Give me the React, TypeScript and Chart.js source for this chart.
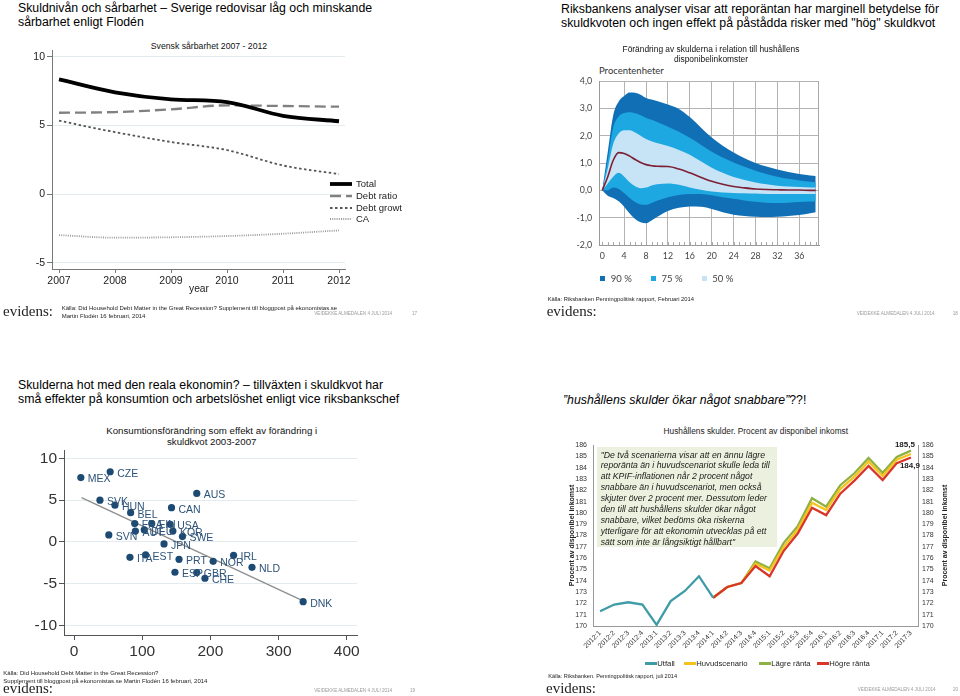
import React, { useEffect, useRef } from "react";
import { Chart, registerables } from "chart.js";

Chart.register(...registerables);

const SANS = '"Liberation Sans", Arial, Helvetica, sans-serif';
const LATO = 'Lato, "Open Sans", sans-serif';
const SERIF = '"Liberation Serif", "Times New Roman", serif';
Chart.defaults.font.family = SANS;

// ===== Top-left: Svensk sårbarhet 2007 - 2012 =====
const tlYears = [2007, 2008, 2009, 2010, 2011, 2012];
const tlTotal = [8.35, 7.41, 6.9, 6.7, 5.7, 5.3];
const tlDebtRatio = [5.92, 5.97, 6.17, 6.46, 6.41, 6.36];
const tlDebtGrowth = [5.34, 4.51, 3.79, 3.2, 2.08, 1.45];
const tlCA = [-2.99, -3.18, -3.15, -3.06, -2.89, -2.65];
const tlYTicks = [-5, 0, 5, 10];

// ===== Top-right: fan chart (procentenheter) =====
const trQuarter = [0, 1, 2, 3, 4, 5, 6, 7, 8, 9, 10, 12, 14, 16, 18, 20, 22, 24, 26, 28, 30, 32, 34, 36, 38, 39];
const trMedian = [0, 0.5, 1.1, 1.38, 1.35, 1.25, 1.13, 1.02, 0.94, 0.9, 0.88, 0.87, 0.78, 0.64, 0.48, 0.33, 0.22, 0.14, 0.09, 0.05, 0.03, 0.02, 0.01, 0.01, 0, 0];
const tr50Upper = [0, 0.8, 1.7, 2.08, 2.2, 2.2, 2.12, 2.0, 1.88, 1.8, 1.73, 1.62, 1.48, 1.3, 1.06, 0.83, 0.64, 0.49, 0.38, 0.29, 0.22, 0.17, 0.14, 0.12, 0.1, 0.1];
const tr50Lower = [0, 0.25, 0.5, 0.64, 0.5, 0.3, 0.15, 0.08, 0.1, 0.18, 0.22, 0.25, 0.2, 0.1, 0.02, -0.04, -0.08, -0.1, -0.11, -0.12, -0.13, -0.13, -0.13, -0.13, -0.13, -0.13];
const tr75Upper = [0, 1.1, 2.3, 2.7, 2.83, 2.86, 2.82, 2.75, 2.65, 2.58, 2.5, 2.33, 2.14, 1.92, 1.67, 1.41, 1.2, 1.02, 0.86, 0.72, 0.6, 0.5, 0.42, 0.36, 0.31, 0.29];
const tr75Lower = [0, 0, 0.1, 0.05, -0.1, -0.28, -0.43, -0.52, -0.53, -0.46, -0.38, -0.25, -0.17, -0.13, -0.13, -0.18, -0.25, -0.31, -0.37, -0.42, -0.45, -0.46, -0.45, -0.43, -0.41, -0.4];
const tr90Upper = [0, 1.4, 2.75, 3.25, 3.45, 3.58, 3.57, 3.5, 3.38, 3.32, 3.27, 3.14, 2.98, 2.68, 2.3, 1.93, 1.63, 1.38, 1.17, 1.0, 0.87, 0.76, 0.67, 0.6, 0.54, 0.52];
const tr90Lower = [0, -0.2, -0.28, -0.4, -0.6, -0.85, -1.05, -1.17, -1.2, -1.1, -0.98, -0.76, -0.64, -0.59, -0.6, -0.68, -0.8, -0.89, -0.94, -0.97, -0.98, -0.97, -0.94, -0.9, -0.84, -0.8];
const trXTicks = [0, 4, 8, 12, 16, 20, 24, 28, 32, 36];
const trYTicks = [-2, -1, 0, 1, 2, 3, 4];
const trBandLabels = ["90 %", "75 %", "50 %"];
const trBandColors = ["#1170b5", "#1ea8e1", "#c6e4f6"];

// ===== Bottom-left: scatter =====
const blCountries = ["MEX", "CZE", "AUS", "SVK", "HUN", "CAN", "BEL", "FRA", "FIN", "USA", "AUT", "DEU", "KOR", "SWE", "SVN", "JPN", "ITA", "EST", "PRT", "NOR", "IRL", "NLD", "ESP", "GBR", "CHE", "DNK"];
const blDebtChange = [10, 53, 180, 38, 60, 143, 83, 89, 114, 141, 90, 103, 145, 159, 51, 132, 82, 105, 154, 204, 234, 261, 148, 180, 192, 336];
const blConsChange = [7.7, 8.4, 5.8, 5.0, 4.4, 4.1, 3.5, 2.2, 2.2, 2.1, 1.3, 1.45, 1.3, 0.64, 0.84, -0.24, -1.84, -1.56, -2.08, -2.32, -1.6, -3.04, -3.63, -3.67, -4.35, -7.15];
const blFitX = [11, 336];
const blFitY = [5.3, -7.05];
const blXTicks = [0, 100, 200, 300, 400];
const blYTicks = [-10, -5, 0, 5, 10];

// ===== Bottom-right: Hushållens skulder =====
const brQuarters = ["2012:1", "2012:2", "2012:3", "2012:4", "2013:1", "2013:2", "2013:3", "2013:4", "2014:1", "2014:2", "2014:3", "2014:4", "2015:1", "2015:2", "2015:3", "2015:4", "2016:1", "2016:2", "2016:3", "2016:4", "2017:1", "2017:2", "2017:3"];
const N = null;
const brUtfall = [171.3, 171.9, 172.1, 171.9, 170.1, 172.2, 173.1, 174.4, 172.5, N, N, N, N, N, N, N, N, N, N, N, N, N, N];
const brHuvud = [N, N, N, N, N, N, N, N, 172.5, 173.45, 173.8, 175.5, 174.9, 177.0, 178.55, 180.9, 180.25, 182.1, 183.2, 184.55, 183.25, 184.7, 185.2];
const brLagre = [N, N, N, N, N, N, N, N, 172.5, 173.45, 173.8, 175.7, 175.1, 177.35, 178.85, 181.3, 180.55, 182.45, 183.5, 184.85, 183.55, 184.95, 185.5];
const brHogre = [N, N, N, N, N, N, N, N, 172.5, 173.45, 173.8, 175.3, 174.4, 176.65, 178.2, 180.45, 179.8, 181.7, 182.85, 184.15, 182.9, 184.4, 184.9];
const brYTicks = [170, 171, 172, 173, 174, 175, 176, 177, 178, 179, 180, 181, 182, 183, 184, 185, 186];
const brSeries = ["Utfall", "Huvudscenario", "Lägre ränta", "Högre ränta"];
const brColors = ["#3f9ca6", "#f5c41c", "#8fb043", "#d8362b"];

// ---------- helpers ----------
type TP = {
  x: number; cy: number; size: number; lh?: number; color?: string; bold?: boolean;
  italic?: boolean; family?: string; align?: "left" | "center" | "right"; children: React.ReactNode;
};
function Txt({ x, cy, size, lh, color = "#000", bold, italic, family = SANS, align = "left", children }: TP) {
  const L = lh ?? Math.round(size * 1.2 * 10) / 10;
  const style: React.CSSProperties = {
    position: "absolute", top: cy - L / 2, fontSize: size, lineHeight: `${L}px`, color,
    fontWeight: bold ? 700 : 400, fontStyle: italic ? "italic" : "normal", fontFamily: family, whiteSpace: "pre",
  };
  if (align === "center") { style.left = x - 300; style.width = 600; style.textAlign = "center"; }
  else if (align === "right") { style.left = x - 600; style.width = 600; style.textAlign = "right"; }
  else style.left = x;
  return <div style={style}>{children}</div>;
}

function ChartBox({ left, top, width, height, make }: { left: number; top: number; width: number; height: number; make: () => any }) {
  const ref = useRef<HTMLCanvasElement>(null);
  useEffect(() => {
    const chart = new Chart(ref.current as HTMLCanvasElement, make());
    return () => chart.destroy();
  }, []);
  return (
    <div style={{ position: "absolute", left, top, width, height }}>
      <canvas ref={ref} width={width} height={height} style={{ width, height, display: "block" }} />
    </div>
  );
}

const fmtComma = (v: number, d: number) => v.toFixed(d).replace(".", ",");

// ---------- TL ----------
const tlLegendPlugin = {
  id: "tlLegend",
  afterDraw(chart: any) {
    const { ctx, chartArea: a } = chart;
    const offs = [85, 73, 61, 50];
    chart.data.datasets.forEach((ds: any, i: number) => {
      const y = a.bottom - offs[i];
      ctx.save();
      ctx.strokeStyle = ds.borderColor;
      ctx.lineWidth = ds.borderWidth;
      ctx.setLineDash(ds.borderDash || []);
      ctx.beginPath();
      ctx.moveTo(a.right - 15, y);
      ctx.lineTo(a.right + 7, y);
      ctx.stroke();
      ctx.setLineDash([]);
      ctx.fillStyle = "#222";
      ctx.font = `9.5px ${SANS}`;
      ctx.textBaseline = "middle";
      ctx.fillText(ds.label, a.right + 11, y + 0.5);
      ctx.restore();
    });
  },
};

function tlConfig() {
  const pts = (arr: number[]) => tlYears.map((y, i) => ({ x: y, y: arr[i] }));
  const common = { pointRadius: 0, cubicInterpolationMode: "monotone", fill: false };
  return {
    type: "line",
    data: {
      datasets: [
        { label: "Total", data: pts(tlTotal), borderColor: "#000", borderWidth: 3.8, ...common },
        { label: "Debt ratio", data: pts(tlDebtRatio), borderColor: "#808080", borderWidth: 2.3, borderDash: [11, 5], ...common },
        { label: "Debt growt", data: pts(tlDebtGrowth), borderColor: "#555", borderWidth: 1.8, borderDash: [2.5, 2.5], ...common },
        { label: "CA", data: pts(tlCA), borderColor: "#9a9a9a", borderWidth: 1.8, borderDash: [1, 1.2], ...common },
      ],
    },
    options: {
      responsive: false, animation: false, devicePixelRatio: 1,
      layout: { padding: { top: 10, right: 75, left: 0, bottom: 0 } },
      plugins: { legend: { display: false }, tooltip: { enabled: false } },
      scales: {
        x: {
          type: "linear", min: 2006.875, max: 2012.107,
          afterBuildTicks: (s: any) => { s.ticks = tlYears.map((v) => ({ value: v })); },
          afterFit: (s: any) => { s.height = 36; },
          grid: { drawOnChartArea: false, color: "#777", tickLength: 4 },
          border: { color: "#777" },
          ticks: { callback: (v: any) => String(v), font: { size: 10.5 }, color: "#222", padding: 2, maxRotation: 0, autoSkip: false },
        },
        y: {
          min: -5.46, max: 10.49,
          afterBuildTicks: (s: any) => { s.ticks = tlYTicks.map((v) => ({ value: v })); },
          afterFit: (s: any) => { s.width = 52; },
          grid: { color: "#e2ebee", tickColor: "#777", tickLength: 5 },
          border: { color: "#777" },
          ticks: { font: { size: 10.5 }, color: "#222", padding: 2 },
        },
      },
    },
    plugins: [tlLegendPlugin],
  };
}

// ---------- TR ----------
const trFramePlugin = {
  id: "trFrame",
  afterDraw(chart: any) {
    const { ctx, chartArea: a, scales } = chart;
    ctx.save();
    ctx.strokeStyle = "#a8a8a8";
    ctx.lineWidth = 1;
    ctx.beginPath();
    ctx.moveTo(a.right - 0.5, a.top);
    ctx.lineTo(a.right - 0.5, a.bottom);
    for (let q = 0; q <= 39; q++) {
      const px = Math.round(scales.x.getPixelForValue(q)) + 0.5;
      ctx.moveTo(px, a.bottom);
      ctx.lineTo(px, a.bottom - 3);
    }
    ctx.stroke();
    ctx.restore();
  },
};

function trConfig() {
  const pts = (arr: number[]) => trQuarter.map((q, i) => ({ x: q, y: arr[i] }));
  const band = { pointRadius: 0, borderWidth: 0, borderColor: "rgba(0,0,0,0)", cubicInterpolationMode: "monotone" };
  return {
    type: "line",
    data: {
      datasets: [
        { label: "median", data: pts(trMedian), borderColor: "#7d1f35", borderWidth: 1.6, pointRadius: 0, fill: false, cubicInterpolationMode: "monotone" },
        { label: "50u", data: pts(tr50Upper), ...band, fill: { target: 2 }, backgroundColor: trBandColors[2] },
        { label: "50l", data: pts(tr50Lower), ...band, fill: false },
        { label: "75u", data: pts(tr75Upper), ...band, fill: { target: 4 }, backgroundColor: trBandColors[1] },
        { label: "75l", data: pts(tr75Lower), ...band, fill: false },
        { label: "90u", data: pts(tr90Upper), ...band, fill: { target: 6 }, backgroundColor: trBandColors[0] },
        { label: "90l", data: pts(tr90Lower), ...band, fill: false },
      ],
    },
    options: {
      responsive: false, animation: false, devicePixelRatio: 1,
      layout: { padding: { top: 11, right: 11, left: 0, bottom: 0 } },
      plugins: { legend: { display: false }, tooltip: { enabled: false } },
      scales: {
        x: {
          type: "linear", min: -0.6, max: 39.6,
          afterBuildTicks: (s: any) => { s.ticks = trXTicks.map((v) => ({ value: v })); },
          afterFit: (s: any) => { s.height = 20; },
          grid: { color: (c: any) => (c.tick && c.tick.value === 0 ? "rgba(0,0,0,0)" : "#b3b3b3"), drawTicks: false },
          border: { color: "#999" },
          ticks: { font: { size: 8.8, family: LATO }, color: "#444", padding: 6, maxRotation: 0, autoSkip: false },
        },
        y: {
          min: -2, max: 4,
          afterBuildTicks: (s: any) => { s.ticks = trYTicks.map((v) => ({ value: v })); },
          afterFit: (s: any) => { s.width = 59; },
          grid: { color: "#b3b3b3", tickColor: "rgba(0,0,0,0)", tickLength: 4 },
          border: { color: "#999" },
          ticks: { font: { size: 8.8, family: LATO }, color: "#444", padding: 3, callback: (v: any) => fmtComma(Number(v), 1) },
        },
      },
    },
    plugins: [trFramePlugin],
  };
}

// ---------- BL ----------
const blLabelPlugin = {
  id: "blLabels",
  afterDatasetsDraw(chart: any) {
    const meta = chart.getDatasetMeta(0);
    const ctx = chart.ctx;
    ctx.save();
    ctx.font = `10.5px ${SANS}`;
    ctx.fillStyle = "#2d5378";
    ctx.textBaseline = "middle";
    meta.data.forEach((el: any, i: number) => ctx.fillText(blCountries[i], el.x + 7, el.y + 2));
    ctx.restore();
  },
};

function blConfig() {
  return {
    type: "scatter",
    data: {
      datasets: [
        { label: "countries", data: blDebtChange.map((x, i) => ({ x, y: blConsChange[i] })), backgroundColor: "#1d4a72", borderWidth: 0, pointRadius: 3.6 },
        { type: "line", label: "fit", data: blFitX.map((x, i) => ({ x, y: blFitY[i] })), borderColor: "#8e8e8e", borderWidth: 1.3, pointRadius: 0, showLine: true, fill: false },
      ],
    },
    options: {
      responsive: false, animation: false, devicePixelRatio: 1,
      layout: { padding: { top: 20, right: 63, left: 0, bottom: 0 } },
      plugins: { legend: { display: false }, tooltip: { enabled: false } },
      scales: {
        x: {
          type: "linear", min: -14.7, max: 415,
          afterBuildTicks: (s: any) => { s.ticks = blXTicks.map((v) => ({ value: v })); },
          afterFit: (s: any) => { s.height = 40; },
          grid: { drawOnChartArea: false, color: "#555", tickLength: 5 },
          border: { color: "#555" },
          ticks: { font: { size: 15.5 }, color: "#333", padding: 2, maxRotation: 0, autoSkip: false },
        },
        y: {
          min: -11.14, max: 11.0,
          afterBuildTicks: (s: any) => { s.ticks = blYTicks.map((v) => ({ value: v })); },
          afterFit: (s: any) => { s.width = 64; },
          grid: { color: "#e3ebee", tickColor: "#555", tickLength: 5 },
          border: { color: "#555" },
          ticks: { font: { size: 15.5 }, color: "#333", padding: 2 },
        },
      },
    },
    plugins: [blLabelPlugin],
  };
}

// ---------- BR ----------
const brPlugin = {
  id: "brExtras",
  afterDraw(chart: any) {
    const { ctx, chartArea: a } = chart;
    const cy = (a.top + a.bottom) / 2;
    ctx.save();
    ctx.font = `bold 7px ${SANS}`;
    ctx.fillStyle = "#222";
    ctx.textAlign = "center";
    ctx.textBaseline = "middle";
    [a.left - 21, a.right + 27].forEach((x) => {
      ctx.save();
      ctx.translate(x, cy);
      ctx.rotate(-Math.PI / 2);
      ctx.fillText("Procent av disponibel inkomst", 0, 0);
      ctx.restore();
    });
    const last = brQuarters.length - 1;
    const g = chart.getDatasetMeta(3).data[last];
    const r = chart.getDatasetMeta(1).data[last];
    ctx.font = `bold 8px ${SANS}`;
    ctx.textAlign = "right";
    ctx.fillText(fmtComma(brLagre[last] as number, 1), g.x + 4, g.y - 6);
    ctx.fillText(fmtComma(brHogre[last] as number, 1), r.x + 9, r.y + 8);
    ctx.restore();
  },
};

function brConfig() {
  const line = (label: string, data: any[], color: string) => ({
    label, data, borderColor: color, backgroundColor: color, borderWidth: 2.3, pointRadius: 0, tension: 0, fill: false, spanGaps: false,
  });
  const yAxis = (position: string, width: number, padding: number) => ({
    position, min: 170, max: 186,
    afterBuildTicks: (s: any) => { s.ticks = brYTicks.map((v) => ({ value: v })); },
    afterFit: (s: any) => { s.width = width; },
    grid: { display: true, drawOnChartArea: false, drawTicks: false },
    border: { color: "#999" },
    ticks: { autoSkip: false, font: { size: 7 }, color: "#333", padding },
  });
  return {
    type: "line",
    data: {
      labels: brQuarters,
      datasets: [
        line(brSeries[0], brUtfall, brColors[0]),
        line(brSeries[3], brHogre, brColors[3]),
        line(brSeries[1], brHuvud, brColors[1]),
        line(brSeries[2], brLagre, brColors[2]),
      ],
    },
    options: {
      responsive: false, animation: false, devicePixelRatio: 1,
      layout: { padding: { top: 15, right: 0, left: 0, bottom: 0 } },
      plugins: { legend: { display: false }, tooltip: { enabled: false } },
      scales: {
        x: {
          type: "category", offset: true,
          afterFit: (s: any) => { s.height = 31; },
          grid: { display: true, drawOnChartArea: false, drawTicks: false },
          border: { color: "#999" },
          ticks: { font: { size: 7 }, color: "#333", maxRotation: 45, minRotation: 45, autoSkip: false, padding: 3 },
        },
        y: yAxis("left", 53, 6),
        y1: yAxis("right", 42, 4),
      },
    },
    plugins: [brPlugin],
  };
}

const EVIDENS = "evidens:";
const FOOT = "VEIDEKKE ALMEDALEN 4 JULI 2014";

export default function App() {
  return (
    <div style={{ position: "absolute", left: 0, top: 0, width: 960, height: 696, background: "#fff", overflow: "hidden", fontFamily: SANS }}>
      {/* ---------- Top-left ---------- */}
      <Txt x={18} cy={8.35} size={12.3} lh={14.3}>{"Skuldnivån och sårbarhet – Sverige redovisar låg och minskande\nsårbarhet enligt Flodén"}</Txt>
      <Txt x={209} cy={46.3} size={8.7} align="center" color="#111">Svensk sårbarhet 2007 - 2012</Txt>
      <ChartBox left={0} top={40} width={420} height={265} make={tlConfig} />
      <Txt x={199} cy={289.2} size={10.3} lh={10.3} align="center" color="#222">year</Txt>
      <Txt x={61.7} cy={309} size={6} lh={7.5} color="#222">{"Källa: Did Household Debt Matter in the Great Recession? Supplement till bloggpost på ekonomistas.se\nMartin Flodén 16 februari, 2014"}</Txt>
      <Txt x={3} cy={311.6} size={15} lh={15} family={SERIF} color="#222">{EVIDENS}</Txt>
      <Txt x={314.3} cy={314} size={4.6} color="#9a9a9a">{FOOT}</Txt>
      <Txt x={412} cy={314} size={4.6} color="#9a9a9a">17</Txt>

      {/* ---------- Top-right ---------- */}
      <Txt x={561} cy={8.65} size={12.3} lh={14.3}>{"Riksbankens analyser visar att reporäntan har marginell betydelse för\nskuldkvoten och ingen effekt på påstådda risker med \"hög\" skuldkvot"}</Txt>
      <Txt x={711} cy={49} size={8.4} lh={10} align="center" color="#111">{"Förändring av skulderna i relation till hushållens\ndisponibelinkomster"}</Txt>
      <Txt x={599} cy={71} size={9.5} family={LATO} color="#333">Procentenheter</Txt>
      <ChartBox left={540} top={70} width={290} height={195} make={trConfig} />
      {trBandLabels.map((lab, i) => (
        <React.Fragment key={lab}>
          <div style={{ position: "absolute", left: 600 + i * 50.8, top: 276, width: 5, height: 5, background: trBandColors[i] }} />
          <Txt x={610.7 + i * 50.8} cy={278.5} size={9.5} family={LATO} color="#444">{lab}</Txt>
        </React.Fragment>
      ))}
      <Txt x={547.7} cy={299} size={5.8} color="#222">Källa: Riksbanken Penningpolitisk rapport, Februari 2014</Txt>
      <Txt x={546.7} cy={311.6} size={15} lh={15} family={SERIF} color="#222">{EVIDENS}</Txt>
      <Txt x={856.7} cy={314} size={4.6} color="#9a9a9a">{FOOT}</Txt>
      <Txt x={952.7} cy={314} size={4.6} color="#9a9a9a">18</Txt>

      {/* ---------- Bottom-left ---------- */}
      <Txt x={18} cy={384.95} size={12.3} lh={14.3}>{"Skulderna hot med den reala ekonomin? – tillväxten i skuldkvot har\nsmå effekter på konsumtion och arbetslöshet enligt vice riksbankschef"}</Txt>
      <Txt x={211.7} cy={430.5} size={9.7} lh={11} align="center" color="#111">{"Konsumtionsförändring som effekt av förändring i\nskuldkvot 2003-2007"}</Txt>
      <ChartBox left={0} top={430} width={420} height={245} make={blConfig} />
      <Txt x={3.3} cy={673.3} size={6} lh={8} color="#222">{"Källa: Did Household Debt Matter in the Great Recession?\nSupplement till bloggpost på ekonomistas.se Martin Flodén 16 februari, 2014"}</Txt>
      <Txt x={3} cy={688.9} size={15} lh={15} family={SERIF} color="#222">{EVIDENS}</Txt>
      <Txt x={314.3} cy={690.7} size={4.6} color="#9a9a9a">{FOOT}</Txt>
      <Txt x={410} cy={690.7} size={4.6} color="#9a9a9a">19</Txt>

      {/* ---------- Bottom-right ---------- */}
      <Txt x={563} cy={399.65} size={12.3} lh={14.3}><i>”hushållens skulder ökar något snabbare”</i>??!</Txt>
      <Txt x={755.8} cy={431} size={8.3} align="center" color="#222">Hushållens skulder. Procent av disponibel inkomst</Txt>
      <ChartBox left={540} top={430} width={420} height={227} make={brConfig} />
      <div style={{ position: "absolute", left: 596.7, top: 446.7, width: 180, height: 100, background: "#ebf1de" }} />
      <Txt x={600.7} cy={455} size={8.7} lh={10.9} italic color="#1a1a1a">{"\"De två scenarierna visar att en ännu lägre\nreporänta än i huvudscenariot skulle leda till\natt KPIF-inflationen når 2 procent något\nsnabbare än i huvudscenariot, men också\nskjuter över 2 procent mer. Dessutom leder\nden till att hushållens skulder ökar något\nsnabbare, vilket bedöms öka riskerna\nytterligare för att ekonomin utvecklas på ett\nsätt som inte är långsiktigt hållbart\""}</Txt>
      {[
        { s: 0, x: 645 }, { s: 1, x: 684 }, { s: 2, x: 759 }, { s: 3, x: 817 },
      ].map(({ s, x }) => (
        <React.Fragment key={s}>
          <div style={{ position: "absolute", left: x, top: 662, width: 11.5, height: 2.6, background: brColors[s] }} />
          <Txt x={x + 12.3} cy={663.3} size={7.7} color="#222">{brSeries[s]}</Txt>
        </React.Fragment>
      ))}
      <Txt x={548.3} cy={676.7} size={5.6} color="#222">Källa: Riksbanken. Penningpolitisk rapport, juli 2014</Txt>
      <Txt x={546} cy={688.9} size={15} lh={15} family={SERIF} color="#222">{EVIDENS}</Txt>
      <Txt x={857.7} cy={690} size={4.6} color="#9a9a9a">{FOOT}</Txt>
      <Txt x={953} cy={690} size={4.6} color="#9a9a9a">20</Txt>
    </div>
  );
}
